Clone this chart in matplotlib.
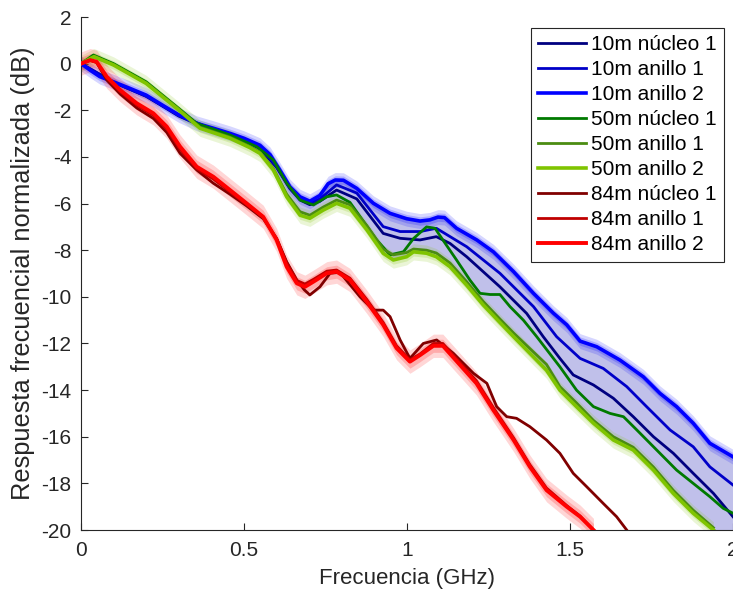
import matplotlib
matplotlib.use("Agg")
import matplotlib.pyplot as plt
import numpy as np

plt.rcParams['font.family'] = ['Liberation Sans', 'DejaVu Sans']
plt.rcParams['axes.unicode_minus'] = False

# ---- data (frequency in GHz, response in dB) ----
f_10n1 = [0, 0.1, 0.2, 0.3, 0.4, 0.5, 0.55, 0.6, 0.64, 0.672, 0.702, 0.733, 0.784, 0.846, 0.927,
          0.979, 1.04, 1.09, 1.132, 1.183, 1.285, 1.367, 1.418, 1.469, 1.51, 1.572, 1.633, 1.694,
          1.756, 1.817, 1.878, 1.94, 2.0]
y_10n1 = [0, -0.8, -1.4, -2.25, -2.85, -3.3, -3.65, -4.45, -5.35, -5.85, -6.05, -5.9, -5.42, -5.8,
          -7.28, -7.49, -7.56, -7.42, -7.71, -8.28, -9.57, -10.71, -11.71, -12.64, -13.35, -13.78,
          -14.35, -15.14, -16.0, -16.71, -17.57, -18.43, -19.43]

f_10a1 = [0, 0.1, 0.2, 0.3, 0.4, 0.5, 0.55, 0.6, 0.64, 0.672, 0.702, 0.733, 0.784, 0.846, 0.927,
          0.979, 1.04, 1.09, 1.183, 1.285, 1.388, 1.459, 1.531, 1.602, 1.674, 1.735, 1.807, 1.878,
          1.929, 2.0]
y_10a1 = [0, -0.8, -1.4, -2.2, -2.8, -3.25, -3.6, -4.4, -5.3, -5.8, -6.0, -5.8, -5.2, -5.55, -6.99,
          -7.2, -7.2, -7.06, -7.85, -8.99, -10.42, -11.71, -12.64, -13.07, -13.85, -14.71, -15.71,
          -16.43, -17.29, -18.07]

f_10a2 = [0, 0.03, 0.058, 0.1, 0.15, 0.2, 0.25, 0.3, 0.355, 0.406, 0.457, 0.5, 0.549, 0.58, 0.61,
          0.641, 0.672, 0.702, 0.733, 0.758, 0.78, 0.805, 0.846, 0.897, 0.948, 0.999, 1.04, 1.07,
          1.095, 1.115, 1.152, 1.214, 1.265, 1.327, 1.388, 1.449, 1.49, 1.531, 1.582, 1.653, 1.725,
          1.776, 1.827, 1.878, 1.929, 2.0]
y_10a2 = [0, -0.3, -0.56, -0.78, -1.06, -1.35, -1.78, -2.2, -2.56, -2.77, -2.99, -3.2, -3.5, -3.9,
          -4.56, -5.28, -5.71, -5.9, -5.65, -5.15, -4.99, -5.0, -5.35, -5.99, -6.42, -6.65, -6.75,
          -6.7, -6.58, -6.6, -7.06, -7.56, -8.07, -8.92, -9.85, -10.7, -11.2, -11.9, -12.14, -12.71,
          -13.43, -14.14, -14.71, -15.42, -16.28, -16.86]

f_50n1 = [0, 0.038, 0.1, 0.2, 0.3, 0.355, 0.457, 0.539, 0.59, 0.631, 0.672, 0.713, 0.754, 0.784,
          0.825, 0.907, 0.948, 0.989, 1.02, 1.06, 1.086, 1.11, 1.152, 1.193, 1.224, 1.255, 1.285,
          1.316, 1.357, 1.398, 1.469, 1.52, 1.572, 1.623, 1.664, 1.705, 1.766, 1.827, 1.878, 1.929,
          1.97, 2.0]
y_50n1 = [0, 0.37, 0.0, -0.78, -1.92, -2.56, -3.06, -3.56, -4.13, -5.13, -5.85, -6.06, -5.71, -5.63,
          -5.95, -7.56, -8.2, -8.07, -7.5, -7.0, -7.06, -7.56, -8.42, -9.28, -9.85, -9.9, -9.9,
          -10.42, -11.0, -11.71, -13.0, -14.0, -14.71, -15.0, -15.14, -15.71, -16.57, -17.43, -18.0,
          -18.57, -19.07, -19.28]

f_50a = [0, 0.04, 0.1, 0.2, 0.3, 0.365, 0.457, 0.518, 0.549, 0.59, 0.631, 0.672, 0.702, 0.743,
         0.784, 0.825, 0.877, 0.927, 0.958, 0.999, 1.02, 1.06, 1.09, 1.132, 1.183, 1.234, 1.285,
         1.327, 1.428, 1.469, 1.52, 1.572, 1.633, 1.694, 1.756, 1.817, 1.878, 1.94]
y_50a1 = [0, 0.3, -0.04, -0.82, -1.95, -2.72, -3.15, -3.55, -3.8, -4.5, -5.6, -6.35, -6.5, -6.15,
          -5.85, -6.05, -6.95, -7.95, -8.2, -8.1, -7.95, -8.0, -8.12, -8.55, -9.35, -10.2, -10.95,
          -11.55, -12.9, -13.85, -14.55, -15.3, -16.0, -16.45, -17.3, -18.3, -19.15, -19.9]
y_50a2 = [0, 0.3, -0.06, -0.85, -1.99, -2.77, -3.2, -3.6, -3.85, -4.56, -5.71, -6.5, -6.63, -6.28,
          -5.99, -6.2, -7.13, -8.13, -8.42, -8.28, -8.07, -8.13, -8.28, -8.71, -9.5, -10.35, -11.1,
          -11.71, -13.15, -14.0, -14.71, -15.42, -16.14, -16.57, -17.43, -18.43, -19.28, -20.0]

f_84n1 = [0, 0.028, 0.048, 0.079, 0.12, 0.171, 0.222, 0.263, 0.304, 0.355, 0.406, 0.457, 0.508,
          0.559, 0.6, 0.631, 0.662, 0.685, 0.702, 0.733, 0.764, 0.794, 0.856, 0.897, 0.927, 0.948,
          0.979, 1.009, 1.05, 1.091, 1.142, 1.204, 1.245, 1.275, 1.306, 1.336, 1.377, 1.428, 1.469,
          1.51, 1.551, 1.602, 1.643, 1.674]
y_84n1 = [0, 0.15, 0.05, -0.7, -1.3, -1.9, -2.35, -2.95, -3.85, -4.56, -5.13, -5.6, -6.1, -6.65,
          -7.5, -8.5, -9.28, -9.7, -9.92, -9.57, -8.99, -8.95, -10.0, -10.57, -10.57, -10.85, -11.85,
          -12.64, -12.0, -11.85, -12.42, -13.28, -13.71, -14.71, -15.14, -15.21, -15.57, -16.14,
          -16.71, -17.57, -18.14, -18.86, -19.43, -20.0]

f_84a = [0, 0.028, 0.048, 0.079, 0.12, 0.171, 0.222, 0.263, 0.304, 0.355, 0.406, 0.457, 0.508,
         0.559, 0.6, 0.631, 0.662, 0.687, 0.713, 0.754, 0.784, 0.825, 0.876, 0.927, 0.968, 1.009,
         1.04, 1.081, 1.11, 1.142, 1.213, 1.265, 1.327, 1.377, 1.428, 1.49, 1.531, 1.572]
y_84a1 = [0, 0.15, 0.06, -0.6, -1.2, -1.78, -2.22, -2.8, -3.68, -4.5, -4.95, -5.5, -6.05, -6.6,
          -7.5, -8.55, -9.3, -9.45, -9.25, -8.9, -8.85, -9.2, -10.1, -11.1, -12.1, -12.7, -12.45,
          -12.0, -12.0, -12.5, -13.6, -14.75, -16.05, -17.2, -18.2, -18.95, -19.4, -20.0]
y_84a2 = [0, 0.15, 0.08, -0.56, -1.13, -1.7, -2.13, -2.7, -3.56, -4.42, -4.85, -5.42, -5.99, -6.57,
          -7.56, -8.71, -9.42, -9.57, -9.35, -8.99, -8.92, -9.28, -10.2, -11.2, -12.2, -12.78, -12.5,
          -12.1, -12.1, -12.6, -13.71, -14.86, -16.14, -17.29, -18.29, -19.0, -19.43, -20.0]

labels = ['10m núcleo 1', '10m anillo 1', '10m anillo 2',
          '50m núcleo 1', '50m anillo 1', '50m anillo 2',
          '84m núcleo 1', '84m anillo 1', '84m anillo 2']
colors = ['#000080', '#0000c8', '#0000ff',
          '#007a00', '#4b8c12', '#7fc400',
          '#800000', '#c00000', '#ff0000']

fig = plt.figure(figsize=(7.33, 5.97), dpi=100)
ax = fig.add_axes([0.1105, 0.1122, 0.8895, 0.8593])

# fill between 10m and 50m outer curves
xf = np.linspace(0, 2.0, 400)
top = np.interp(xf, f_10a2, y_10a2)
bot = np.interp(xf, f_50a, y_50a2, right=-22)
ax.fill_between(xf, top, bot, where=top > bot, color='#4040c0', alpha=0.33, lw=0, zorder=1)

# uncertainty bands round the anillo 2 curves
for fx, fy, c, w1, w2 in [(f_10a2, y_10a2, '#0000ff', 0.18, 0.32),
                          (f_50a, y_50a2, '#7fc400', 0.18, 0.35),
                          (f_84a, y_84a2, '#ff0000', 0.28, 0.5)]:
    fx = np.array(fx); fy = np.array(fy)
    ax.fill_between(fx, fy - w2, fy + w2, color=c, alpha=0.16, lw=0, zorder=2)
    ax.fill_between(fx, fy - w1, fy + w1, color=c, alpha=0.2, lw=0, zorder=2)

series = [(f_10n1, y_10n1), (f_10a1, y_10a1), (f_10a2, y_10a2),
          (f_50n1, y_50n1), (f_50a, y_50a1), (f_50a, y_50a2),
          (f_84n1, y_84n1), (f_84a, y_84a1), (f_84a, y_84a2)]
widths = [2.0, 2.0, 2.6, 2.0, 2.0, 2.6, 2.0, 2.0, 2.8]
for (fx, fy), lab, c, lw in zip(series, labels, colors, widths):
    ax.plot(fx, fy, color=c, lw=lw, label=lab, zorder=3, solid_joinstyle='round')

ax.set_xlim(0, 2)
ax.set_ylim(-20, 2)
ax.set_xticks([0, 0.5, 1, 1.5, 2])
ax.set_xticklabels(['0', '0.5', '1', '1.5', '2'])
ax.set_yticks(range(-20, 3, 2))
ax.tick_params(direction='in', length=5, width=0.8, labelsize=15, colors='#262626',
               top=False, right=False)
ax.tick_params(axis='x', pad=8)
ax.tick_params(axis='y', pad=7)
for s in ['top', 'right']:
    ax.spines[s].set_visible(False)
for s in ['left', 'bottom']:
    ax.spines[s].set_color('#262626')
    ax.spines[s].set_linewidth(0.8)

ax.set_xlabel('Frecuencia (GHz)', fontsize=16, color='#262626', labelpad=6)
ax.set_ylabel('Respuesta frecuencial normalizada (dB)', fontsize=18.3, color='#262626', labelpad=4)

leg = ax.legend(loc='upper right', bbox_to_anchor=(0.986, 0.979), fontsize=15,
                handlelength=2.3, labelspacing=0.29, borderpad=0.35, handletextpad=0.25,
                borderaxespad=0, fancybox=False, framealpha=1, edgecolor='#262626')
leg.get_frame().set_linewidth(0.8)
leg.set_zorder(10)

fig.savefig('out.png', dpi=100)
